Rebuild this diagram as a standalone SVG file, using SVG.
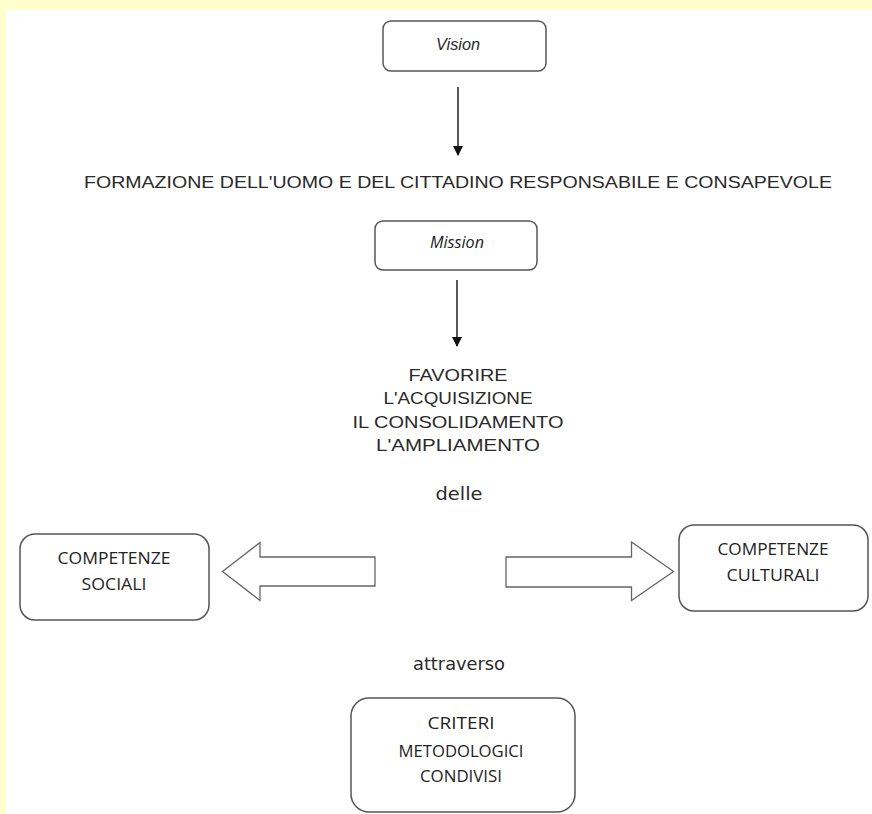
<svg xmlns="http://www.w3.org/2000/svg" width="872" height="814" viewBox="0 0 872 814">
<style>
.box{fill:#fff;stroke:#555;stroke-width:1.5}
.blk{fill:#fff;stroke:#666;stroke-width:1.3}
.t{font-family:"Liberation Sans","DejaVu Sans",sans-serif;fill:#2a2a2a;font-size:17px;text-anchor:middle}
.l{font-family:"DejaVu Sans","Liberation Sans",sans-serif;fill:#2a2a2a;font-size:18.5px;text-anchor:middle}
.b{font-family:"Open Sans","Noto Sans",sans-serif;fill:#222;font-size:15.5px;text-anchor:middle}
.i{font-style:italic}
.ln{stroke:#111;stroke-width:1.4;fill:none}
</style>
<defs>
<marker id="ah" markerWidth="10" markerHeight="10" refX="9" refY="5" orient="auto" markerUnits="userSpaceOnUse">
<path d="M0,0 L10,5 L0,10 z" fill="#111"/>
</marker>
</defs>
<rect x="0" y="0" width="872" height="814" fill="#FFFFCC"/>
<rect x="6" y="10" width="866" height="804" fill="#fff"/>

<g id="vision">
<rect class="box" x="383" y="21" width="163" height="50" rx="8"/>
<text class="t i" x="458" y="50" font-size="15" textLength="44" lengthAdjust="spacingAndGlyphs">Vision</text>
</g>

<g id="formazione">
<text class="t" x="458" y="188" font-size="18" textLength="748" lengthAdjust="spacingAndGlyphs">FORMAZIONE DELL'UOMO E DEL CITTADINO RESPONSABILE E CONSAPEVOLE</text>
</g>

<g id="mission">
<rect class="box" x="375" y="221" width="162" height="49" rx="8"/>
<text class="b i" x="457" y="248" font-size="14" textLength="54" lengthAdjust="spacingAndGlyphs">Mission</text>
</g>

<g id="favorire">
<text class="t" x="458" y="381" textLength="99" lengthAdjust="spacingAndGlyphs">FAVORIRE</text>
<text class="t" x="458" y="404" textLength="149" lengthAdjust="spacingAndGlyphs">L'ACQUISIZIONE</text>
<text class="t" x="458" y="428" textLength="211" lengthAdjust="spacingAndGlyphs">IL CONSOLIDAMENTO</text>
<text class="t" x="458" y="451" textLength="164" lengthAdjust="spacingAndGlyphs">L'AMPLIAMENTO</text>
</g>

<g id="delle">
<text class="l" x="459" y="500" textLength="47" lengthAdjust="spacingAndGlyphs">delle</text>
</g>

<g id="sociali">
<rect class="box" x="20" y="534" width="189" height="86" rx="15"/>
<text class="b" x="114" y="564" textLength="113" lengthAdjust="spacingAndGlyphs">COMPETENZE</text>
<text class="b" x="114" y="590" textLength="65" lengthAdjust="spacingAndGlyphs">SOCIALI</text>
</g>

<g id="culturali">
<rect class="box" x="679" y="525" width="189" height="86" rx="15"/>
<text class="b" x="773" y="555" textLength="111" lengthAdjust="spacingAndGlyphs">COMPETENZE</text>
<text class="b" x="773" y="581" textLength="93" lengthAdjust="spacingAndGlyphs">CULTURALI</text>
</g>

<g id="attraverso">
<text class="l" x="459" y="670" textLength="92" lengthAdjust="spacingAndGlyphs">attraverso</text>
</g>

<g id="criteri">
<rect class="box" x="351" y="698" width="224" height="114" rx="18"/>
<text class="b" x="461" y="729" textLength="67" lengthAdjust="spacingAndGlyphs">CRITERI</text>
<text class="b" x="461" y="757" textLength="125" lengthAdjust="spacingAndGlyphs">METODOLOGICI</text>
<text class="b" x="461" y="782" textLength="82" lengthAdjust="spacingAndGlyphs">CONDIVISI</text>
</g>

<g id="connectors">
<line class="ln" x1="458" y1="87" x2="458" y2="155" marker-end="url(#ah)"/>
<line class="ln" x1="457" y1="280" x2="457" y2="346" marker-end="url(#ah)"/>
<path class="blk" d="M375,557 L260,557 L260,542.5 L222.5,571.5 L260,600.5 L260,586 L375,586 Z"/>
<path class="blk" d="M506,557 L631.5,557 L631.5,542 L673.5,571.5 L631.5,600.5 L631.5,587 L506,587 Z"/>
</g>
</svg>
